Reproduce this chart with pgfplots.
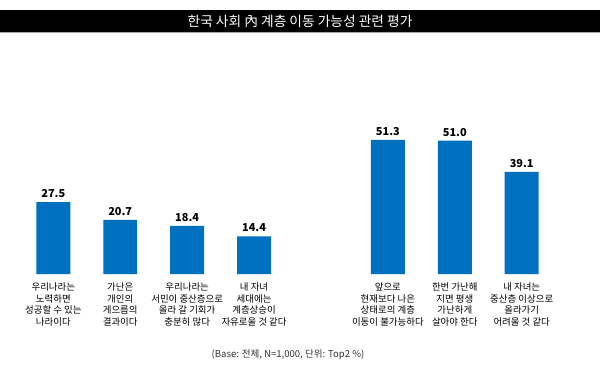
\documentclass[border=0pt]{standalone}
\usepackage{pgfplots}
\pgfplotsset{compat=1.18}
\usepackage{fontspec}
\setmainfont{Noto Sans CJK KR}
\definecolor{barblue}{HTML}{0070C0}
\begin{document}
\begin{tikzpicture}
\begin{axis}[
  scale only axis, width=600bp, height=370bp,
  xmin=-0.791, xmax=8.164, ymin=-36.45, ymax=104.77,
  hide axis, clip=false,
  axis background/.style={fill=white},
  /pgf/number format/assume math mode=true,
]
\fill[black] (axis cs:-0.791,100.95) rectangle (axis cs:8.164,92.56);
\draw[gray!70, line width=0.8bp] (axis cs:-0.791,92.4) -- (axis cs:8.164,92.4);
\node[text=white, font=\fontsize{13.8}{15}\selectfont] at (axis cs:3.687,96.76) {한국 사회 內 계층 이동 가능성 관련 평가};
\addplot[ybar, bar width=34bp, fill=barblue, draw=none,
  nodes near coords,
  nodes near coords style={font=\fontsize{11}{12}\selectfont\bfseries, anchor=south, yshift=1bp,
    /pgf/number format/.cd, fixed, fixed zerofill, precision=1},
] coordinates {(0,27.5)(1,20.7)(2,18.4)(3,14.4)(5,51.3)(6,51.0)(7,39.1)};
\begin{scope}[every node/.style={anchor=north, align=center, font=\fontsize{9.5}{11.5}\selectfont}]
\node at (axis cs:0,-2.0) {우리나라는\\노력하면\\성공할 수 있는\\나라이다};
\node at (axis cs:1,-2.0) {가난은\\개인의\\게으름의\\결과이다};
\node at (axis cs:2,-2.0) {우리나라는\\서민이 중산층으로\\올라 갈 기회가\\충분히 많다};
\node at (axis cs:3,-2.0) {내 자녀\\세대에는\\계층상승이\\자유로울 것 같다};
\node at (axis cs:5,-2.0) {앞으로\\현재보다 나은\\상태로의 계층\\이동이 불가능하다};
\node at (axis cs:6,-2.0) {한번 가난해\\지면 평생\\가난하게\\살아야 한다};
\node at (axis cs:7,-2.0) {내 자녀는\\중산층 이상으로\\올라가기\\어려울 것 같다};
\end{scope}
\node[font=\fontsize{9.6}{11}\selectfont, text=black!80] at (axis cs:3.507,-30.73) {(Base: 전체, N=1,000, 단위: Top2 \%)};
\end{axis}
\end{tikzpicture}
\end{document}
